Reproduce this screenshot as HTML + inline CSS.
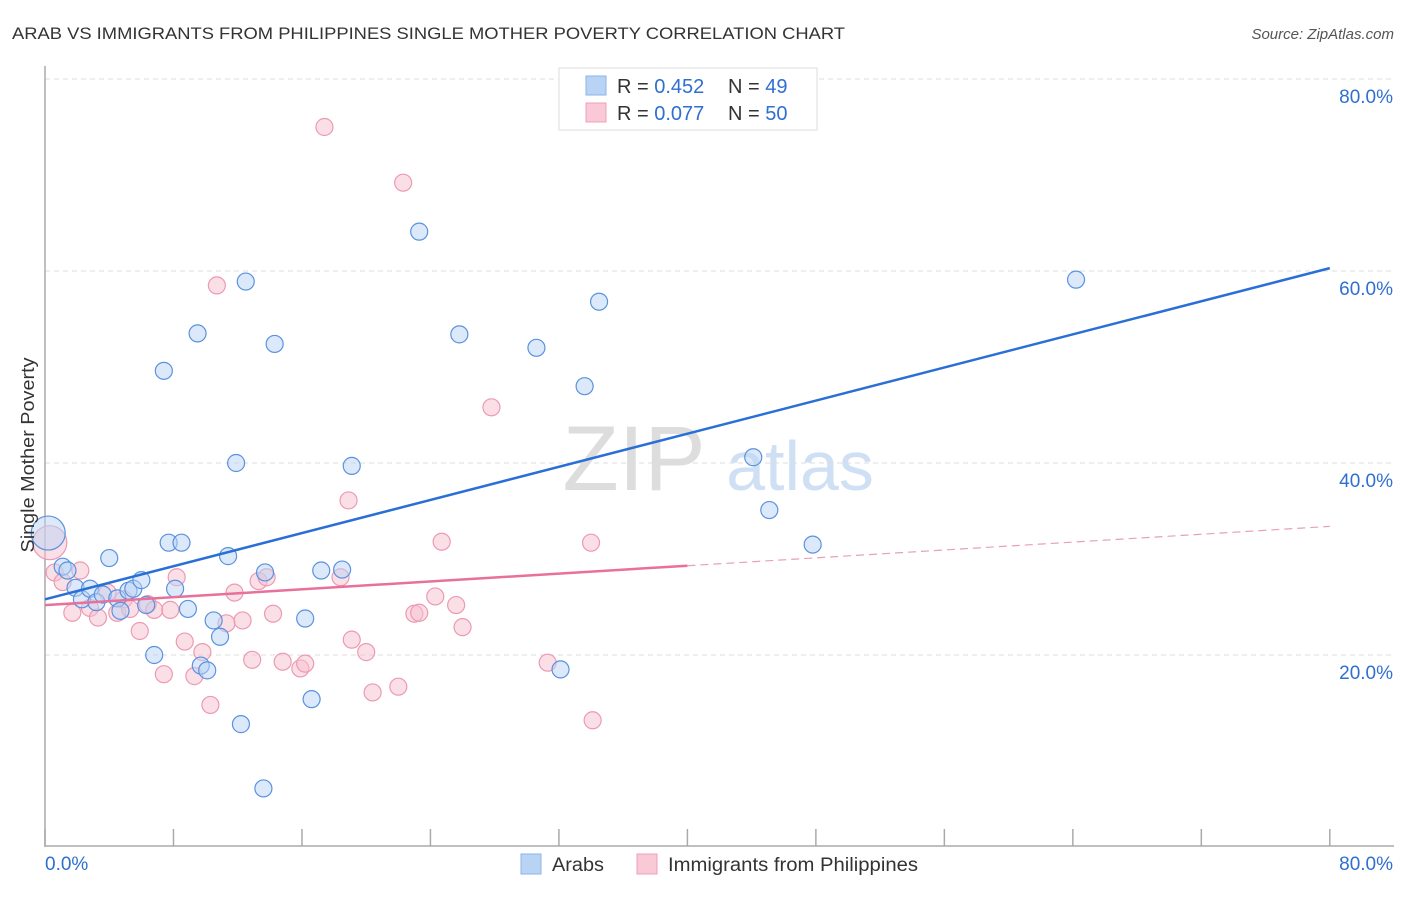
<!DOCTYPE html>
<html><head><meta charset="utf-8"><style>
body{margin:0;background:#fff;font-family:"Liberation Sans",sans-serif}
svg text{font-family:"Liberation Sans",sans-serif}
</style></head><body>
<svg width="1406" height="892" xmlns="http://www.w3.org/2000/svg" id="chart">
<text x="12" y="39" font-size="17" fill="#333" textLength="833" lengthAdjust="spacingAndGlyphs">ARAB VS IMMIGRANTS FROM PHILIPPINES SINGLE MOTHER POVERTY CORRELATION CHART</text>
<text x="1394" y="39" font-size="15" fill="#555" text-anchor="end" font-style="italic">Source: ZipAtlas.com</text>
<text x="634" y="490" font-size="92" fill="#ddd" font-family="Liberation Serif" text-anchor="middle">ZIP</text>
<text x="800" y="490" font-size="70" fill="#cfe0f5" text-anchor="middle">atlas</text>
<g id="grid"></g><g id="axes"></g><g id="pts"></g><g id="lines"></g>
<text transform="translate(34,455) rotate(-90)" font-size="18" fill="#333" text-anchor="middle" textLength="195" lengthAdjust="spacingAndGlyphs">Single Mother Poverty</text>
<g>
<rect x="559" y="68" width="258" height="62" fill="#fff" stroke="#ddd"/>
<rect x="586" y="76" width="20" height="19" fill="#b9d3f5" stroke="#8ab4ea"/>
<rect x="586" y="103" width="20" height="19" fill="#f9c9d7" stroke="#f0a0b8"/>
<text x="617" y="93" font-size="20" fill="#333">R = <tspan fill="#2f6fd0">0.452</tspan><tspan x="728">N = </tspan><tspan fill="#2f6fd0">49</tspan></text>
<text x="617" y="120" font-size="20" fill="#333">R = <tspan fill="#2f6fd0">0.077</tspan><tspan x="728">N = </tspan><tspan fill="#2f6fd0">50</tspan></text>
</g>
<g>
<rect x="521" y="854" width="20" height="20" fill="#b9d3f5" stroke="#8ab4ea"/>
<text x="552" y="871" font-size="19" fill="#333" textLength="52" lengthAdjust="spacingAndGlyphs">Arabs</text>
<rect x="637" y="854" width="20" height="20" fill="#f9c9d7" stroke="#f0a0b8"/>
<text x="668" y="871" font-size="19" fill="#333" textLength="250" lengthAdjust="spacingAndGlyphs">Immigrants from Philippines</text>
</g>
</svg>
<script>
const blueX=[0.2,1.1,1.4,1.9,2.3,2.8,3.2,3.6,4.0,4.5,4.7,5.2,5.5,6.0,6.3,6.8,7.4,7.7,8.1,8.5,8.9,9.5,9.7,10.1,10.5,10.9,11.4,11.9,12.2,12.5,13.6,13.7,14.3,16.2,16.6,17.2,18.5,19.1,23.3,25.8,30.6,32.1,33.6,34.5,44.1,45.1,47.8,64.2];
const blueY=[32.7,29.2,28.8,27.0,25.8,26.9,25.5,26.3,30.1,25.9,24.6,26.7,26.9,27.8,25.2,20.0,49.6,31.7,26.9,31.7,24.8,53.5,18.9,18.4,23.6,21.9,30.3,40.0,12.8,58.9,6.1,28.6,52.4,23.8,15.4,28.8,28.9,39.7,64.1,53.4,52.0,18.5,48.0,56.8,40.6,35.1,31.5,59.1];
const pinkX=[0.3,0.6,1.1,1.7,2.2,2.8,3.3,3.9,4.5,4.9,5.3,5.9,6.4,6.8,7.4,7.8,8.2,8.7,9.3,9.8,10.3,10.7,11.3,11.8,12.3,12.9,13.3,13.8,14.2,14.8,15.9,16.2,17.4,18.4,18.9,19.1,20.0,20.4,22.0,22.3,23.0,23.3,24.3,24.7,25.6,26.0,27.8,31.3,34.0,34.1];
const pinkY=[31.7,28.6,27.6,24.4,28.8,24.9,23.9,26.5,24.4,25.8,24.8,22.5,25.3,24.7,18.0,24.7,28.1,21.4,17.8,20.3,14.8,58.5,23.3,26.5,23.6,19.5,27.7,28.1,24.3,19.3,18.6,19.1,75.0,28.1,36.1,21.6,20.3,16.1,16.7,69.2,24.3,24.4,26.1,31.8,25.2,22.9,45.8,19.2,31.7,13.2];
const trendBlue=[25.8,60.3], trendPink=[25.2,33.4], pinkSolidEnd=40;
const xTicks=[0,8,16,24,32,40,48,56,64,72,80], yTicks=[20,40,60,80];
const X=v=>45+v*16.06, Y=v=>847-v*9.6;
const NS='http://www.w3.org/2000/svg';
function mk(parent,tag,attrs){const e=document.createElementNS(NS,tag);for(const k in attrs)e.setAttribute(k,attrs[k]);document.getElementById(parent).appendChild(e);return e;}
yTicks.forEach(t=>{
 const g=mk('grid','line',{x1:45,x2:1394,y1:Y(t),y2:Y(t),stroke:'#ddd','stroke-dasharray':'5,4'});
 
 
 const l=mk('grid','text',{x:1393,y:Y(t)+24,'font-size':19,fill:'#2f6fd0','text-anchor':'end'});l.textContent=t.toFixed(1)+'%';
 
 
});
const ax=mk('axes','line',{x1:45,x2:45,y1:66,y2:847,stroke:'#aaa','stroke-width':1.5});


const bx=mk('axes','line',{x1:45,x2:1394,y1:846,y2:846,stroke:'#aaa','stroke-width':1.5});


xTicks.forEach(t=>{const e=mk('axes','line',{x1:X(t),x2:X(t),y1:829,y2:846,stroke:'#aaa','stroke-width':1.5});
 
 });
[[0,'start',45],[80,'end',1393]].forEach(([v,a,px])=>{const l=mk('axes','text',{x:px,y:870,'font-size':19,fill:'#2f6fd0','text-anchor':a});l.textContent=v.toFixed(1)+'%';
 
 });
function dots(xs,ys,fill,stroke,name){xs.forEach((x,i)=>{const c=mk('pts','circle',{cx:X(x),cy:Y(ys[i]),r:i===0?17:8.5,fill:fill,stroke:stroke,'stroke-width':1.2,'fill-opacity':0.5});
 
 });}
dots(pinkX,pinkY,'#f7bfd0','#ec9ab4','point-philippines');
dots(blueX,blueY,'#b9d3f5','#5b92de','point-arabs');
const tb=mk('lines','line',{x1:X(0),y1:Y(trendBlue[0]),x2:X(80),y2:Y(trendBlue[1]),stroke:'#2a6fd6','stroke-width':2.5});


const pm=v=>trendPink[0]+(trendPink[1]-trendPink[0])*v/80;
const tp=mk('lines','line',{x1:X(0),y1:Y(pm(0)),x2:X(pinkSolidEnd),y2:Y(pm(pinkSolidEnd)),stroke:'#e8709a','stroke-width':2.5});


const td=mk('lines','line',{x1:X(pinkSolidEnd),y1:Y(pm(pinkSolidEnd)),x2:X(80),y2:Y(pm(80)),stroke:'#e8a0b8','stroke-width':1.2,'stroke-dasharray':'8,5'});


</script>
</body></html>
